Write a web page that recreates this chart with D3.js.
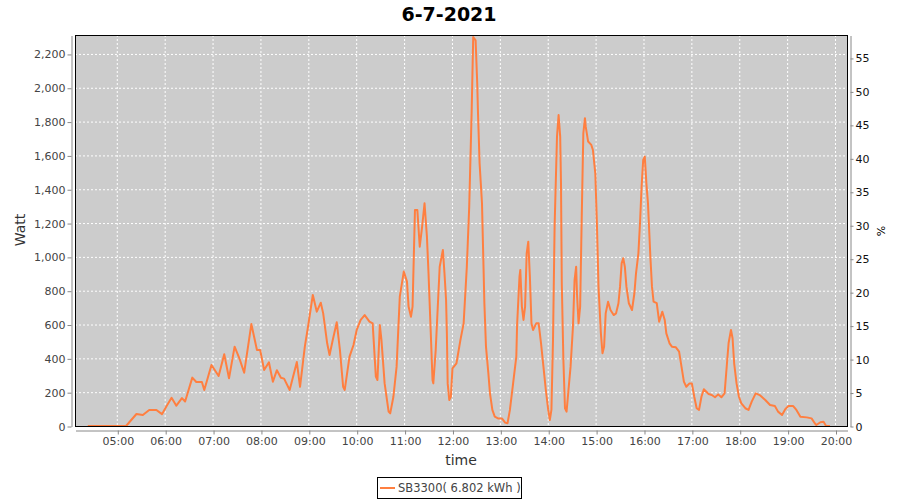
<!DOCTYPE html>
<html>
<head>
<meta charset="utf-8">
<script src="https://cdn.jsdelivr.net/npm/d3@7"></script>
<style>
  body { margin: 0; background: #fff; }
  text { font-family: "DejaVu Sans", sans-serif; }
</style>
</head>
<body>
<script>
'use strict';

// measurement times (hh:mm) and power in watt
const times = [
  "04:23", "05:11", "05:24", "05:32", "05:40", "05:49", "05:56", "06:02", "06:08", "06:14",
  "06:21", "06:25", "06:34", "06:39", "06:46", "06:49", "06:58", "07:07", "07:14", "07:20",
  "07:27", "07:33", "07:39", "07:48", "07:55", "07:59", "08:04", "08:10", "08:15", "08:20",
  "08:25", "08:29", "08:36", "08:45", "08:49", "08:55", "08:59", "09:05", "09:10", "09:15",
  "09:18", "09:23", "09:26", "09:30", "09:35", "09:39", "09:43", "09:45", "09:51", "09:56",
  "10:00", "10:05", "10:10", "10:16", "10:20", "10:24", "10:26", "10:29", "10:31", "10:35",
  "10:40", "10:42", "10:46", "10:50", "10:54", "10:59", "11:03", "11:05", "11:08", "11:10",
  "11:13", "11:16", "11:19", "11:22", "11:25", "11:28", "11:30", "11:33", "11:35", "11:36",
  "11:39", "11:42", "11:44", "11:48", "11:50", "11:52", "11:53", "11:54", "11:56", "11:58",
  "12:00", "12:05", "12:10", "12:14", "12:18", "12:21", "12:24", "12:26", "12:29", "12:31",
  "12:32", "12:34", "12:37", "12:40", "12:42", "12:45", "12:47", "12:50", "12:53", "12:57",
  "13:02", "13:06", "13:09", "13:12", "13:16", "13:20", "13:21", "13:24", "13:25", "13:27",
  "13:29", "13:31", "13:33", "13:35", "13:37", "13:39", "13:41", "13:45", "13:48", "13:51",
  "13:54", "13:57", "14:00", "14:02", "14:04", "14:06", "14:08", "14:11", "14:13", "14:15",
  "14:16", "14:17", "14:19", "14:21", "14:23", "14:25", "14:28", "14:31", "14:33", "14:35",
  "14:36", "14:38", "14:40", "14:42", "14:44", "14:46", "14:47", "14:50", "14:54", "14:56",
  "14:59", "15:01", "15:03", "15:06", "15:08", "15:10", "15:12", "15:15", "15:18", "15:22",
  "15:25", "15:28", "15:30", "15:32", "15:34", "15:36", "15:38", "15:41", "15:45", "15:48",
  "15:50", "15:53", "15:55", "15:57", "15:59", "16:01", "16:03", "16:05", "16:08", "16:10",
  "16:12", "16:16", "16:19", "16:23", "16:26", "16:28", "16:32", "16:35", "16:40", "16:44",
  "16:47", "16:50", "16:53", "16:57", "17:00", "17:03", "17:06", "17:09", "17:12", "17:15",
  "17:21", "17:25", "17:29", "17:33", "17:37", "17:41", "17:44", "17:46", "17:49", "17:51",
  "17:53", "17:56", "17:59", "18:02", "18:07", "18:11", "18:15", "18:20", "18:25", "18:32",
  "18:38", "18:44", "18:48", "18:53", "18:57", "19:01", "19:07", "19:11", "19:16", "19:24",
  "19:30", "19:34", "19:36", "19:41", "19:45", "19:48", "19:53"
];
const watts = [
  0, 0, 71, 65, 95, 95, 70, 120, 167, 120,
  165, 145, 286, 260, 260, 213, 361, 296, 424, 282,
  469, 400, 315, 603, 449, 450, 331, 377, 262, 330,
  285, 280, 213, 378, 232, 469, 587, 775, 676, 729,
  666, 489, 420, 509, 613, 449, 232, 213, 410, 479,
  568, 627, 656, 617, 607, 292, 272, 597, 509, 252,
  85, 75, 173, 351, 765, 913, 854, 706, 646, 706,
  1277, 1277, 1060, 1179, 1317, 1120, 903, 528, 272, 252,
  449, 745, 942, 1041, 903, 745, 548, 252, 154, 173,
  341, 371, 509, 607, 942, 1297, 1850, 2300, 2280, 2030,
  1850, 1553, 1317, 726, 469, 311, 193, 95, 55, 45,
  45, 20, 16, 95, 252, 410, 597, 883, 923, 706,
  627, 706, 1021, 1090, 883, 607, 568, 607, 607, 489,
  351, 213, 95, 35, 95, 509, 1179, 1711, 1839, 1711,
  1435, 844, 390, 105, 85, 193, 351, 587, 863, 942,
  785, 607, 706, 1238, 1731, 1820, 1770, 1682, 1662, 1632,
  1494, 1199, 824, 548, 430, 469, 666, 735, 686, 656,
  666, 726, 824, 962, 992, 942, 824, 726, 686, 785,
  903, 1021, 1199, 1415, 1573, 1593, 1435, 1317, 1001, 824,
  735, 726, 617, 676, 627, 548, 489, 469, 465, 440,
  351, 262, 232, 252, 252, 173, 105, 95, 173, 217,
  189, 183, 170, 187, 170, 193, 371, 489, 568, 519,
  371, 252, 173, 134, 105, 95, 144, 193, 183, 154,
  124, 118, 85, 65, 99, 118, 118, 95, 55, 51,
  45, 16, 6, 22, 25, 2, 0
];

const chartTitle = "6-7-2021";
const seriesName = "SB3300( 6.802 kWh )";
const wattTicks = [0, 200, 400, 600, 800, 1000, 1200, 1400, 1600, 1800, 2000, 2200];
const pctTicks = [0, 5, 10, 15, 20, 25, 30, 35, 40, 45, 50, 55];
const hourTicks = ["05:00", "06:00", "07:00", "08:00", "09:00", "10:00", "11:00", "12:00",
  "13:00", "14:00", "15:00", "16:00", "17:00", "18:00", "19:00", "20:00"];

(function() {

  let svg = "";

  window.onload = function() {
    svg = d3.select('body')
      .append('svg')
      .attr('width', 900)
      .attr('height', 500);

    makeChart();
  }

  function makeChart() {
    let parseTime = d3.timeParse("%H:%M");
    let data = times.map((t, i) => ({ time: parseTime(t), watt: watts[i] }));

    // plot area
    let left = 75, right = 847, top = 35, bottom = 426;

    let xScale = d3.scaleTime()
      .domain([parseTime("04:07"), new Date(parseTime("20:14").getTime() + 24000)])
      .range([left, right]);

    let yScale = d3.scaleLinear()
      .domain([0, 2312])
      .range([bottom, top]);

    let pctScale = d3.scaleLinear()
      .domain([0, 58.43])
      .range([bottom, top]);

    // background
    svg.append('rect')
      .attr('x', left)
      .attr('y', top)
      .attr('width', right - left)
      .attr('height', bottom - top)
      .attr('fill', '#cccccc');

    // dashed white grid
    let hours = hourTicks.map((h) => parseTime(h));
    svg.append('g')
      .selectAll('line')
      .data(hours)
      .enter()
      .append('line')
        .attr('x1', (d) => xScale(d))
        .attr('x2', (d) => xScale(d))
        .attr('y1', top)
        .attr('y2', bottom)
        .attr('stroke', '#fff')
        .attr('stroke-dasharray', '2,2');

    svg.append('g')
      .selectAll('line')
      .data(wattTicks)
      .enter()
      .append('line')
        .attr('x1', left)
        .attr('x2', right)
        .attr('y1', (d) => yScale(d) + 0.5)
        .attr('y2', (d) => yScale(d) + 0.5)
        .attr('stroke', '#fff')
        .attr('stroke-dasharray', '2,2');

    // the power line
    let line = d3.line()
      .x((d) => xScale(d.time))
      .y((d) => yScale(d.watt));

    svg.append('path')
      .datum(data)
      .attr('fill', 'none')
      .attr('stroke', '#ff7f40')
      .attr('stroke-width', 2)
      .attr('stroke-linejoin', 'round')
      .attr('d', line);

    // plot border
    svg.append('rect')
      .attr('x', left + 0.5)
      .attr('y', top + 0.5)
      .attr('width', right - left)
      .attr('height', bottom - top)
      .attr('fill', 'none')
      .attr('stroke', '#000');

    drawAxes(xScale, yScale, pctScale, hours, bottom);
    makeLabels();
    makeLegend();
  }

  // draw the three axes
  function drawAxes(xScale, yScale, pctScale, hours, bottom) {
    let xAxis = d3.axisBottom(xScale)
      .tickValues(hours)
      .tickFormat(d3.timeFormat("%H:%M"))
      .tickSize(4)
      .tickSizeOuter(0);
    let gx = svg.append('g')
      .attr('transform', 'translate(0.5, ' + (bottom + 4.5) + ')')
      .call(xAxis);

    let yAxis = d3.axisLeft(yScale)
      .tickValues(wattTicks)
      .tickFormat(d3.format(","))
      .tickSize(4)
      .tickSizeOuter(0);
    let gy = svg.append('g')
      .attr('transform', 'translate(71.5, 0.5)')
      .call(yAxis);

    let pAxis = d3.axisRight(pctScale)
      .tickValues(pctTicks)
      .tickSize(3)
      .tickSizeOuter(0);
    let gp = svg.append('g')
      .attr('transform', 'translate(850.5, 0.5)')
      .call(pAxis);

    [gx, gy, gp].forEach((g) => {
      g.select('.domain').attr('stroke', '#888');
      g.selectAll('.tick line').attr('stroke', '#888');
      g.selectAll('.tick text')
        .attr('fill', '#444')
        .style('font-size', '11px')
        .style('font-family', '"DejaVu Sans", sans-serif');
    });
    gp.selectAll('.tick text').attr('fill', '#111').attr('x', 5);
    gy.selectAll('.tick text').attr('x', -6);
    gx.selectAll('.tick text').attr('y', 7);
  }

  // title and axis labels
  function makeLabels() {
    svg.append('text')
      .attr('x', 449)
      .attr('y', 21)
      .attr('text-anchor', 'middle')
      .style('font-size', '19px')
      .style('font-weight', 'bold')
      .attr('fill', '#000')
      .text(chartTitle);

    svg.append('text')
      .attr('x', 461)
      .attr('y', 465)
      .attr('text-anchor', 'middle')
      .style('font-size', '14px')
      .attr('fill', '#333')
      .text('time');

    svg.append('text')
      .attr('transform', 'translate(25, 230)rotate(-90)')
      .attr('text-anchor', 'middle')
      .style('font-size', '14px')
      .attr('fill', '#333')
      .text('Watt');

    svg.append('text')
      .attr('transform', 'translate(885, 231)rotate(-90)')
      .attr('text-anchor', 'middle')
      .style('font-size', '11px')
      .attr('fill', '#000')
      .text('%');
  }

  function makeLegend() {
    svg.append('rect')
      .attr('x', 377.5)
      .attr('y', 477.5)
      .attr('width', 144)
      .attr('height', 21)
      .attr('fill', '#fff')
      .attr('stroke', '#000');

    svg.append('line')
      .attr('x1', 380)
      .attr('x2', 395)
      .attr('y1', 488)
      .attr('y2', 488)
      .attr('stroke', '#ff7f40')
      .attr('stroke-width', 2);

    svg.append('text')
      .attr('x', 398)
      .attr('y', 492)
      .style('font-size', '11.5px')
      .attr('fill', '#444')
      .text(seriesName);
  }
})();
</script>
</body>
</html>
